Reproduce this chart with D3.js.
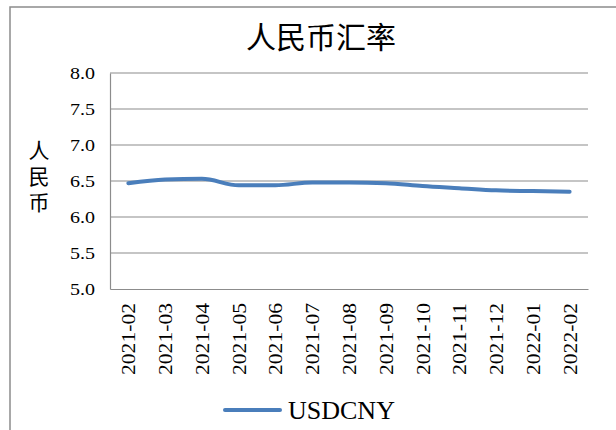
<!DOCTYPE html>
<html><head><meta charset="utf-8">
<script src="https://cdn.jsdelivr.net/npm/d3@7"></script>
<style>html,body{margin:0;padding:0;background:#fff;}
text.serif{font-family:"Liberation Serif","DejaVu Serif",serif;}
text.cjk{font-family:"Noto Sans CJK SC","Noto Sans",sans-serif;}
</style>
</head><body>
<svg id="chart" width="616" height="430"></svg>
<script>
const categories = ["2021-02","2021-03","2021-04","2021-05","2021-06","2021-07","2021-08","2021-09","2021-10","2021-11","2021-12","2022-01","2022-02"];
const usdcny = [6.47, 6.52, 6.53, 6.44, 6.44, 6.48, 6.48, 6.47, 6.43, 6.40, 6.37, 6.36, 6.35];
const yTicks = [5.0, 5.5, 6.0, 6.5, 7.0, 7.5, 8.0];
const seriesName = "USDCNY";
const title = "人民币汇率";
const yTitle = "人民币";

const svg = d3.select("#chart");
const lineColor = "#4a7ebb";
const gridColor = "#8c8c8c";
const serifFont = "Liberation Serif, DejaVu Serif, serif";

// outer border
svg.append("rect").attr("x",10).attr("y",7).attr("width",640).attr("height",460)
  .attr("fill","none").attr("stroke","#8c8c8c").attr("stroke-width",1.5);

const L=110, R=588, T=73, B=289;
const x = d3.scalePoint().domain(categories).range([L,R]).padding(0.5);
const y = d3.scaleLinear().domain([5,8]).range([B,T]);

// gridlines
svg.append("g").selectAll("line").data(yTicks.filter(d=>d>5)).join("line")
  .attr("x1",L).attr("x2",R).attr("y1",d=>y(d)).attr("y2",d=>y(d))
  .attr("stroke",gridColor).attr("stroke-width",1.2);

// axes
const yAxis = svg.append("g").attr("transform",`translate(${L},0)`)
  .call(d3.axisLeft(y).tickValues(yTicks).tickSize(0).tickPadding(15).tickFormat(d3.format(".1f")));
yAxis.attr("font-family",serifFont);
yAxis.select(".domain").attr("stroke",gridColor).attr("stroke-width",1.2);
yAxis.selectAll("text").classed("serif",true)
  .attr("font-size",17).attr("fill","#000")
  .attr("textLength",25).attr("lengthAdjust","spacingAndGlyphs");

const xAxis = svg.append("g").attr("transform",`translate(0,${B})`)
  .call(d3.axisBottom(x).tickSize(0).tickPadding(0));
xAxis.attr("font-family",serifFont);
xAxis.select(".domain").attr("stroke",gridColor).attr("stroke-width",1.2);
xAxis.selectAll("text").classed("serif",true)
  .attr("font-size",18.5).attr("fill","#000")
  .attr("text-anchor","end")
  .attr("transform","translate(0,14) rotate(-90)")
  .attr("x",0).attr("y",0).attr("dy","0.35em")
  .attr("textLength",72).attr("lengthAdjust","spacingAndGlyphs");

// line
const line = d3.line().x((d,i)=>x(categories[i])).y(d=>y(d)).curve(d3.curveMonotoneX);
svg.append("path").datum(usdcny).attr("d",line).attr("fill","none")
  .attr("stroke",lineColor).attr("stroke-width",4).attr("stroke-linecap","round");

// title
svg.append("text").attr("class","cjk").attr("x",321).attr("y",48).attr("text-anchor","middle")
  .attr("font-size",30).attr("fill","#000").text(title);

// y title (vertical, upright characters)
svg.append("text").attr("class","cjk")
  .attr("x",39).attr("y",179).attr("text-anchor","middle")
  .style("writing-mode","vertical-rl").style("text-orientation","upright")
  .style("letter-spacing","5px")
  .attr("font-size",21).attr("fill","#000").text(yTitle);

// legend
svg.append("line").attr("x1",225).attr("x2",280).attr("y1",410).attr("y2",410)
  .attr("stroke",lineColor).attr("stroke-width",4).attr("stroke-linecap","round");
svg.append("text").classed("serif",true)
  .attr("x",288).attr("y",419).attr("font-size",26)
  .attr("fill","#000").text(seriesName);
</script>
</body></html>
